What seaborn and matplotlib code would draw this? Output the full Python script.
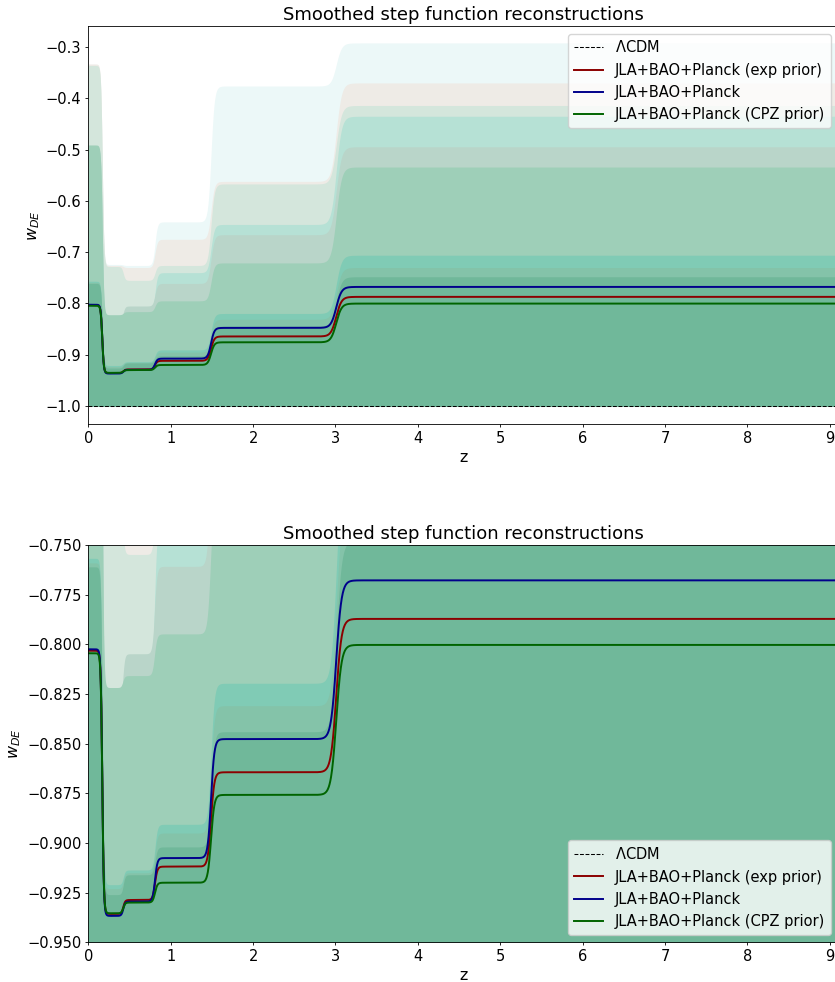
import numpy as np
import pandas as pd
import seaborn as sns
import matplotlib
matplotlib.use('Agg')
import matplotlib.pyplot as plt
from matplotlib.ticker import MultipleLocator

# reference was drawn at 72 dpi defaults, scale those down for 100 dpi
matplotlib.rcParams['xtick.major.size'] = 2.5
matplotlib.rcParams['ytick.major.size'] = 2.5
matplotlib.rcParams['xtick.major.pad'] = 2.5
matplotlib.rcParams['ytick.major.pad'] = 2.5
matplotlib.rcParams['xtick.major.width'] = 0.6
matplotlib.rcParams['ytick.major.width'] = 0.6
matplotlib.rcParams['axes.linewidth'] = 0.6
matplotlib.rcParams['axes.labelpad'] = 2.9
matplotlib.rcParams['axes.titlepad'] = 4.3

# bin edges (centres of the smoothed transitions) in z
z_edges = [0.17, 0.425, 0.81, 1.49, 3.01]

# best-fit w in each of the 6 bins
w_exp = [-0.8032, -0.9357, -0.9287, -0.9119, -0.8644, -0.7872]
w_planck = [-0.8025, -0.9367, -0.9295, -0.9076, -0.8477, -0.7678]
w_cpz = [-0.8045, -0.9354, -0.9300, -0.9200, -0.8758, -0.8003]

# upper edges of the confidence bands per bin (lower edge is the w=-1 prior)
band_1 = [-0.340, -0.724, -0.726, -0.641, -0.376, -0.292]
band_2 = [-0.333, -0.726, -0.730, -0.675, -0.562, -0.370]
band_3 = [-0.336, -0.728, -0.755, -0.726, -0.567, -0.414]
band_4 = [-0.495, -0.830, -0.818, -0.740, -0.646, -0.435]
band_5 = [-0.495, -0.830, -0.805, -0.761, -0.666, -0.4945]
band_6 = [-0.491, -0.822, -0.816, -0.795, -0.721, -0.534]
band_7 = [-0.7567, -0.921, -0.9136, -0.8906, -0.8196, -0.706]
band_8 = [-0.759, -0.923, -0.915, -0.895, -0.8309, -0.730]
band_9 = [-0.761, -0.926, -0.916, -0.902, -0.844, -0.748]

bands = [band_1, band_2, band_3, band_4, band_5, band_6, band_7, band_8, band_9]
band_colors = ['#ecf8f8', '#eeebe6', '#d4e6dc', '#b6e1d5', '#b9d5c9',
               '#9ecfb8', '#80cbb5', '#84c3a9', '#70b89a']

labels = ['JLA+BAO+Planck (exp prior)', 'JLA+BAO+Planck', 'JLA+BAO+Planck (CPZ prior)']
line_colors = ['darkred', 'darkblue', 'darkgreen']

z = np.linspace(0, 9.1, 3000)
s = 0.016


def smooth_step(vals):
    x = np.log1p(z)
    w = np.full_like(z, vals[0])
    for e, a, b in zip(z_edges, vals[:-1], vals[1:]):
        w += (b - a) * 0.5 * (1 + np.tanh((x - np.log1p(e)) / s))
    return w


df = pd.concat([pd.DataFrame({'z': z, 'w': smooth_step(v), 'model': lab})
                for v, lab in zip([w_exp, w_planck, w_cpz], labels)])

fig = plt.figure(figsize=(8.35, 9.82), dpi=100)
W, H = 835, 982


def panel(rect, ylim, loc, major):
    l, t, r, b = rect
    ax = fig.add_axes([l / W, 1 - b / H, (r - l) / W, (b - t) / H])
    for up, c in zip(bands, band_colors):
        ax.fill_between(z, -1, smooth_step(up), color=c, lw=0)
    ax.axhline(-1, color='k', ls='--', lw=0.75, label=r'$\Lambda$CDM')
    for lab, c in zip(labels, line_colors):
        sns.lineplot(data=df[df.model == lab], x='z', y='w', color=c, lw=1.4,
                     label=lab, ax=ax, estimator=None)
    ax.set_xlim(0, 9.1)
    ax.set_ylim(*ylim)
    ax.xaxis.set_major_locator(MultipleLocator(1))
    ax.yaxis.set_major_locator(MultipleLocator(major))
    ax.tick_params(labelsize=10.5)
    ax.set_xlabel('z', fontsize=11.5)
    ax.set_ylabel(r'$w_{DE}$', fontsize=11.5)
    ax.set_title('Smoothed step function reconstructions', fontsize=13)
    ax.legend(loc=loc, fontsize=10.5)
    return ax


panel((88.3, 26.3, 838, 424.3), (-1.0357, -0.2596), 'upper right', 0.1)
panel((88.3, 545, 838, 942.3), (-0.95, -0.75), 'lower right', 0.025)

fig.savefig('out.png', dpi=100)
